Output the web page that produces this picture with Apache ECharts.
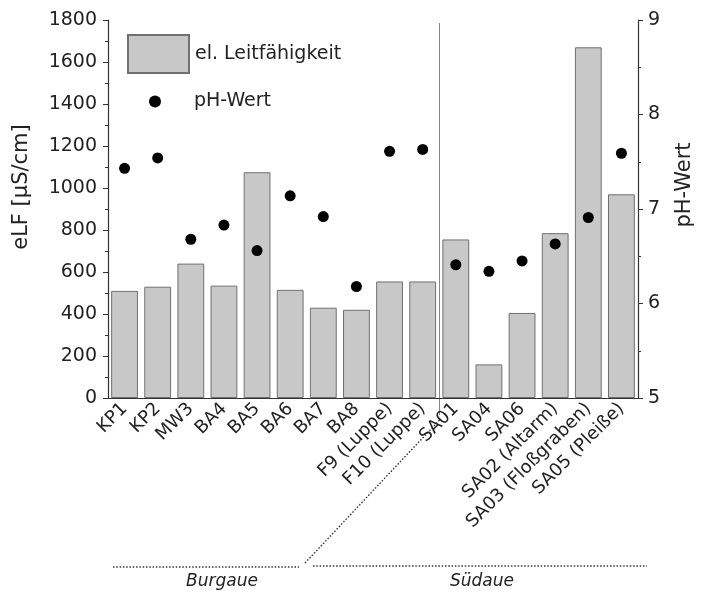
<!DOCTYPE html>
<html>
<head>
<meta charset="utf-8">
<script src="https://cdn.jsdelivr.net/npm/echarts@6/dist/echarts.min.js"></script>
<style>
  html, body { margin: 0; padding: 0; background: #fff; }
  #main { width: 703px; height: 592px; }
</style>
</head>
<body>
<div id="main"></div>
<script>
// Messstellen
var stations = ['KP1', 'KP2', 'MW3', 'BA4', 'BA5', 'BA6', 'BA7', 'BA8', 'F9 (Luppe)', 'F10 (Luppe)',
  'SA01', 'SA04', 'SA06', 'SA02 (Altarm)', 'SA03 (Floßgraben)', 'SA05 (Pleiße)'];
// el. Leitfähigkeit [µS/cm]
var eLF = [510, 530, 640, 535, 1075, 515, 430, 420, 555, 555, 755, 160, 405, 785, 1670, 970];
// pH-Wert
var ph = [7.43, 7.54, 6.68, 6.83, 6.56, 7.14, 6.92, 6.18, 7.61, 7.63, 6.41, 6.34, 6.45, 6.63, 6.91, 7.59];

var font = 'DejaVu Sans, sans-serif';
var axisCol = '#333';
var txtCol = '#222';

var myChart = echarts.init(document.getElementById('main'));
var option = {
  animation: false,
  grid: { left: 108, right: 65, top: 20, bottom: 194 },
  legend: [
    {
      left: 122, top: 29, itemWidth: 61, itemHeight: 38, itemGap: 0,
      data: [{ name: 'el. Leitfähigkeit', icon: 'rect' }],
      textStyle: { fontFamily: font, fontSize: 19, color: txtCol, padding: [0, 0, 0, 1] }
    },
    {
      left: 144, top: 87, itemWidth: 12, itemHeight: 12,
      data: [{ name: 'pH-Wert', icon: 'circle' }],
      textStyle: { fontFamily: font, fontSize: 19, color: txtCol, padding: [0, 0, 0, 28] }
    }
  ],
  xAxis: [
    {
      type: 'category', data: stations,
      axisLine: { lineStyle: { color: axisCol, width: 1.2 } },
      axisTick: { alignWithLabel: true, length: 5, lineStyle: { color: axisCol } },
      axisLabel: { rotate: 45, interval: 0, margin: 8, fontFamily: font, fontSize: 18, color: txtCol }
    },
    {
      type: 'category', data: stations, position: 'bottom',
      axisLine: { show: false },
      axisTick: { length: 3, lineStyle: { color: axisCol } },
      axisLabel: { show: false }
    }
  ],
  yAxis: [
    {
      type: 'value', min: 0, max: 1800, interval: 200,
      axisLine: { show: true, lineStyle: { color: axisCol, width: 1.2 } },
      axisTick: { show: true, length: 5, lineStyle: { color: axisCol } },
      minorTick: { show: true, splitNumber: 2, length: 3, lineStyle: { color: axisCol } },
      splitLine: { show: false },
      axisLabel: { fontFamily: font, fontSize: 19, color: txtCol, margin: 11, formatter: function (v) { return String(v); } }
    },
    {
      type: 'value', min: 5, max: 9, interval: 1,
      axisLine: { show: true, lineStyle: { color: axisCol, width: 1.2 } },
      axisTick: { show: true, length: 5, lineStyle: { color: axisCol } },
      minorTick: { show: true, splitNumber: 2, length: 3, lineStyle: { color: axisCol } },
      splitLine: { show: false },
      axisLabel: { fontFamily: font, fontSize: 19, color: txtCol, margin: 10 }
    }
  ],
  series: [
    {
      name: 'el. Leitfähigkeit', type: 'bar', data: eLF,
      barCategoryGap: '19%',
      itemStyle: { color: '#c8c8c8', borderColor: '#707070', borderWidth: 1 }
    },
    {
      name: 'pH-Wert', type: 'scatter', yAxisIndex: 1, data: ph,
      symbol: 'circle', symbolSize: 11,
      itemStyle: { color: '#000', opacity: 1 }
    }
  ]
};
myChart.setOption(option);

// Trennlinie zwischen Burgaue und Südaue
var p1 = myChart.convertToPixel({ xAxisIndex: 0 }, 'F10 (Luppe)');
var p2 = myChart.convertToPixel({ xAxisIndex: 0 }, 'SA01');
var sepX = Math.round((p1 + p2) / 2) + 0.5;
var dotted = { stroke: '#333', lineWidth: 1.4, lineDash: [1.5, 1.8] };
var italic = { fontFamily: font, fontSize: 17, fontStyle: 'italic', fill: txtCol, align: 'center', verticalAlign: 'middle' };

myChart.setOption({
  graphic: [
    { type: 'line', shape: { x1: sepX, y1: 23, x2: sepX, y2: 415 }, style: { stroke: '#888', lineWidth: 1 } },
    { type: 'line', shape: { x1: 113, y1: 567, x2: 299, y2: 567 }, style: dotted },
    { type: 'line', shape: { x1: 305, y1: 563, x2: sepX, y2: 420 }, style: dotted },
    { type: 'line', shape: { x1: 313, y1: 566, x2: 647, y2: 566 }, style: dotted },
    { type: 'text', x: 222, y: 582, style: Object.assign({ text: 'Burgaue' }, italic) },
    { type: 'text', x: 482, y: 582, style: Object.assign({ text: 'Südaue' }, italic) },
    { type: 'text', x: 22, y: 187, rotation: Math.PI / 2, style: { text: 'eLF [µS/cm]', fontFamily: font, fontSize: 21, fill: txtCol, align: 'center', verticalAlign: 'middle' } },
    { type: 'text', x: 685, y: 185, rotation: Math.PI / 2, style: { text: 'pH-Wert', fontFamily: font, fontSize: 21, fill: txtCol, align: 'center', verticalAlign: 'middle' } }
  ]
});
</script>
</body>
</html>
